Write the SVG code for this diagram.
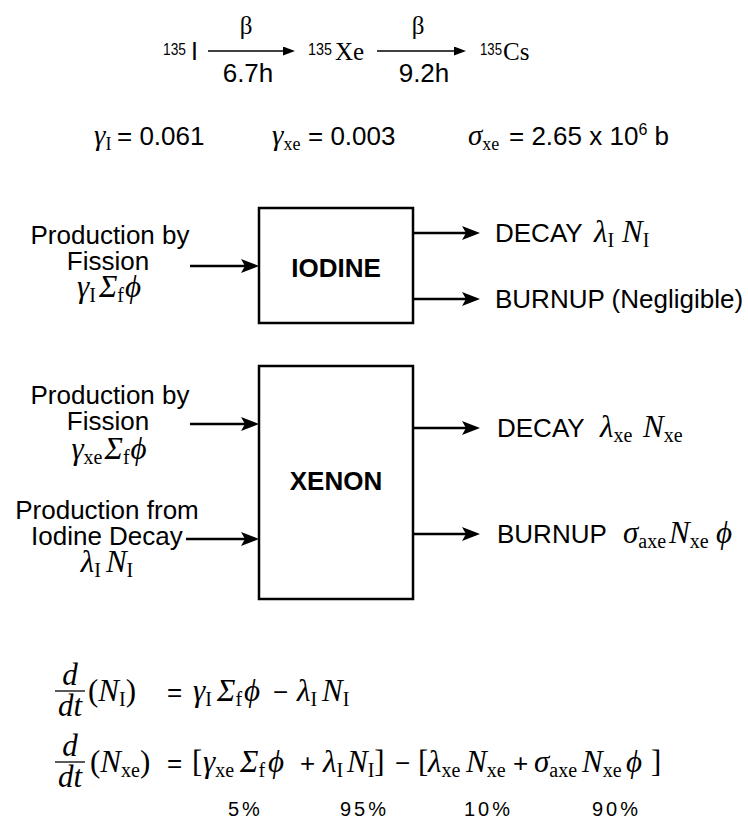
<svg xmlns="http://www.w3.org/2000/svg" width="748" height="828" viewBox="0 0 748 828">
<style>
.sans{font-family:"Liberation Sans",Arial,Helvetica,sans-serif;font-size:26px;fill:#000}
.b{font-weight:bold}
.sup{font-size:17px}
.ser{font-family:"Liberation Serif","Times New Roman",serif;font-size:25px;fill:#000}
.m{font-family:"Liberation Serif","Times New Roman","DejaVu Serif",serif;font-style:italic;font-size:31px;fill:#000}
.eq{font-size:31px}
.up{font-style:normal}
.s{font-style:normal;font-size:20px}
.pct{font-family:"Liberation Sans",Arial,sans-serif;font-size:20px;letter-spacing:3px;fill:#000}
.box{fill:#fff;stroke:#000;stroke-width:2.5}
.conn{stroke:#000;stroke-width:2.5;fill:none}
.thin{stroke:#000;stroke-width:1.5;fill:none}
.frac{stroke:#000;stroke-width:1.3}
</style>
<defs>
<marker id="ah" markerUnits="userSpaceOnUse" markerWidth="20" markerHeight="16" refX="14" refY="7" orient="auto"><path d="M0,0 L18,7 L0,14 L4,7 Z" fill="#000"/></marker>
<marker id="sh" markerUnits="userSpaceOnUse" markerWidth="14" markerHeight="10" refX="9" refY="4.5" orient="auto"><path d="M0,0 L12,4.5 L0,9 Z" fill="#000"/></marker>
</defs>
<rect width="748" height="828" fill="#fff"/>

<g id="decay-chain">
<text class="sans sup" x="163" y="55" textLength="23" lengthAdjust="spacingAndGlyphs">135</text>
<text class="sans" x="191" y="60" style="font-size:25px">I</text>
<text class="ser" x="246" y="34" text-anchor="middle">β</text>
<text class="sans" x="248" y="82" text-anchor="middle">6.7h</text>
<text class="sans sup" x="308" y="55" textLength="24" lengthAdjust="spacingAndGlyphs">135</text>
<text class="ser" x="335" y="60">Xe</text>
<text class="ser" x="418" y="34" text-anchor="middle">β</text>
<text class="sans" x="424" y="82" text-anchor="middle">9.2h</text>
<text class="sans sup" x="480" y="55" textLength="22" lengthAdjust="spacingAndGlyphs">135</text>
<text class="ser" x="503" y="60">Cs</text>
</g>

<g id="constants">
<text class="m" x="94" y="145" style="font-size:29px">γ<tspan class="s" dy="5" style="font-size:18px">I</tspan></text>
<text class="sans" x="117" y="145">= 0.061</text>
<text class="m" x="272" y="145" style="font-size:29px">γ<tspan class="s" dy="5" style="font-size:18px">xe</tspan></text>
<text class="sans" x="308" y="145">= 0.003</text>
<text class="m" x="468" y="145" style="font-size:29px">σ<tspan class="s" dy="5" style="font-size:18px">xe</tspan></text>
<text class="sans" x="509" y="145">= 2.65 x 10<tspan class="sup" dy="-10" style="font-size:16px">6</tspan><tspan dy="10"> b</tspan></text>
</g>

<g id="connectors">
<line class="conn" x1="190" y1="266" x2="255" y2="266" marker-end="url(#ah)"/>
<line class="conn" x1="413" y1="233" x2="476" y2="233" marker-end="url(#ah)"/>
<line class="conn" x1="413" y1="299" x2="476" y2="299" marker-end="url(#ah)"/>
<line class="conn" x1="190" y1="424" x2="255" y2="424" marker-end="url(#ah)"/>
<line class="conn" x1="186" y1="539" x2="255" y2="539" marker-end="url(#ah)"/>
<line class="conn" x1="413" y1="428" x2="476" y2="428" marker-end="url(#ah)"/>
<line class="conn" x1="413" y1="534" x2="476" y2="534" marker-end="url(#ah)"/>
<line class="thin" x1="208" y1="51" x2="292" y2="51" marker-end="url(#sh)"/>
<line class="thin" x1="377" y1="51" x2="463" y2="51" marker-end="url(#sh)"/>
</g>

<g id="iodine">
<rect class="box" x="259" y="208" width="154" height="115"/>
<text class="sans b" x="336" y="277" text-anchor="middle">IODINE</text>
</g>

<g id="xenon">
<rect class="box" x="259" y="366" width="154" height="233"/>
<text class="sans b" x="336" y="490" text-anchor="middle">XENON</text>
</g>

<g id="iodine-fission">
<text class="sans" x="110" y="244" text-anchor="middle">Production by</text>
<text class="sans" x="108" y="270" text-anchor="middle">Fission</text>
<text class="m" x="109" y="297" text-anchor="middle">γ<tspan class="s" dy="5">I</tspan><tspan dy="-5" dx="3">Σ</tspan><tspan class="s" dy="5">f</tspan><tspan dy="-5" dx="1">ϕ</tspan></text>
</g>

<g id="iodine-decay-out">
<text class="sans" x="495" y="242">DECAY</text>
<text class="m" x="594" y="242">λ<tspan class="s" dy="5">I</tspan></text>
<text class="m" x="622" y="242">N<tspan class="s" dy="5">I</tspan></text>
</g>

<g id="iodine-burnup-out">
<text class="sans" x="495" y="308">BURNUP (Negligible)</text>
</g>

<g id="xenon-fission">
<text class="sans" x="110" y="404" text-anchor="middle">Production by</text>
<text class="sans" x="108" y="430" text-anchor="middle">Fission</text>
<text class="m" x="109" y="459" text-anchor="middle">γ<tspan class="s" dy="5">xe</tspan><tspan dy="-5" dx="2">Σ</tspan><tspan class="s" dy="5">f</tspan><tspan dy="-5" dx="1">ϕ</tspan></text>
</g>

<g id="xenon-from-iodine">
<text class="sans" x="107" y="519" text-anchor="middle">Production from</text>
<text class="sans" x="31" y="545">Iodine Decay</text>
<text class="m" x="107" y="572" text-anchor="middle">λ<tspan class="s" dy="5">I</tspan><tspan dy="-5" dx="5">N</tspan><tspan class="s" dy="5">I</tspan></text>
</g>

<g id="xenon-decay-out">
<text class="sans" x="497" y="437">DECAY</text>
<text class="m" x="600" y="437">λ<tspan class="s" dy="5">xe</tspan></text>
<text class="m" x="643" y="437">N<tspan class="s" dy="5">xe</tspan></text>
</g>

<g id="xenon-burnup-out">
<text class="sans" x="497" y="543">BURNUP</text>
<text class="m" x="623" y="543">σ<tspan class="s" dy="5">axe</tspan></text>
<text class="m" x="669" y="543">N<tspan class="s" dy="5">xe</tspan></text>
<text class="m" x="716" y="543">ϕ</text>
</g>

<g id="equation-iodine">
<text class="m eq" x="70" y="685" text-anchor="middle">d</text>
<line class="frac" x1="55" y1="691" x2="85" y2="691"/>
<text class="m eq" x="70" y="716" text-anchor="middle">dt</text>
<text class="m eq" x="88" y="701"><tspan class="up">(</tspan>N<tspan class="s" dy="5">I</tspan><tspan dy="-5" class="up">)</tspan></text>
<text class="sans" x="167" y="701">=</text>
<text class="m eq" x="193" y="701">γ<tspan class="s" dy="5">I</tspan></text>
<text class="m eq" x="217" y="701">Σ<tspan class="s" dy="5">f</tspan></text>
<text class="m eq" x="244" y="701">ϕ</text>
<text class="sans" x="273" y="701">−</text>
<text class="m eq" x="297" y="701">λ<tspan class="s" dy="5">I</tspan></text>
<text class="m eq" x="322" y="701">N<tspan class="s" dy="5">I</tspan></text>
</g>

<g id="equation-xenon">
<text class="m eq" x="70" y="756" text-anchor="middle">d</text>
<line class="frac" x1="55" y1="762" x2="85" y2="762"/>
<text class="m eq" x="70" y="787" text-anchor="middle">dt</text>
<text class="m eq" x="90" y="772"><tspan class="up">(</tspan>N<tspan class="s" dy="5">xe</tspan><tspan dy="-5" class="up">)</tspan></text>
<text class="sans" x="167" y="772">=</text>
<text class="m eq up" x="192" y="772">[</text>
<text class="m eq" x="203" y="772">γ<tspan class="s" dy="5">xe</tspan></text>
<text class="m eq" x="240" y="772">Σ<tspan class="s" dy="5">f</tspan></text>
<text class="m eq" x="268" y="772">ϕ</text>
<text class="sans" x="300" y="772">+</text>
<text class="m eq" x="323" y="772">λ<tspan class="s" dy="5">I</tspan></text>
<text class="m eq" x="347" y="772">N<tspan class="s" dy="5">I</tspan><tspan dy="-5" class="up">]</tspan></text>
<text class="sans" x="395" y="772">−</text>
<text class="m eq up" x="418" y="772">[</text>
<text class="m eq" x="428" y="772">λ<tspan class="s" dy="5">xe</tspan></text>
<text class="m eq" x="466" y="772">N<tspan class="s" dy="5">xe</tspan></text>
<text class="sans" x="513" y="772">+</text>
<text class="m eq" x="534" y="772">σ<tspan class="s" dy="5">axe</tspan></text>
<text class="m eq" x="582" y="772">N<tspan class="s" dy="5">xe</tspan></text>
<text class="m eq" x="626" y="772">ϕ</text>
<text class="m eq up" x="651" y="772">]</text>
</g>

<g id="percentages">
<text class="pct" x="228" y="816">5%</text>
<text class="pct" x="340" y="816">95%</text>
<text class="pct" x="464" y="816">10%</text>
<text class="pct" x="592" y="816">90%</text>
</g>
</svg>
